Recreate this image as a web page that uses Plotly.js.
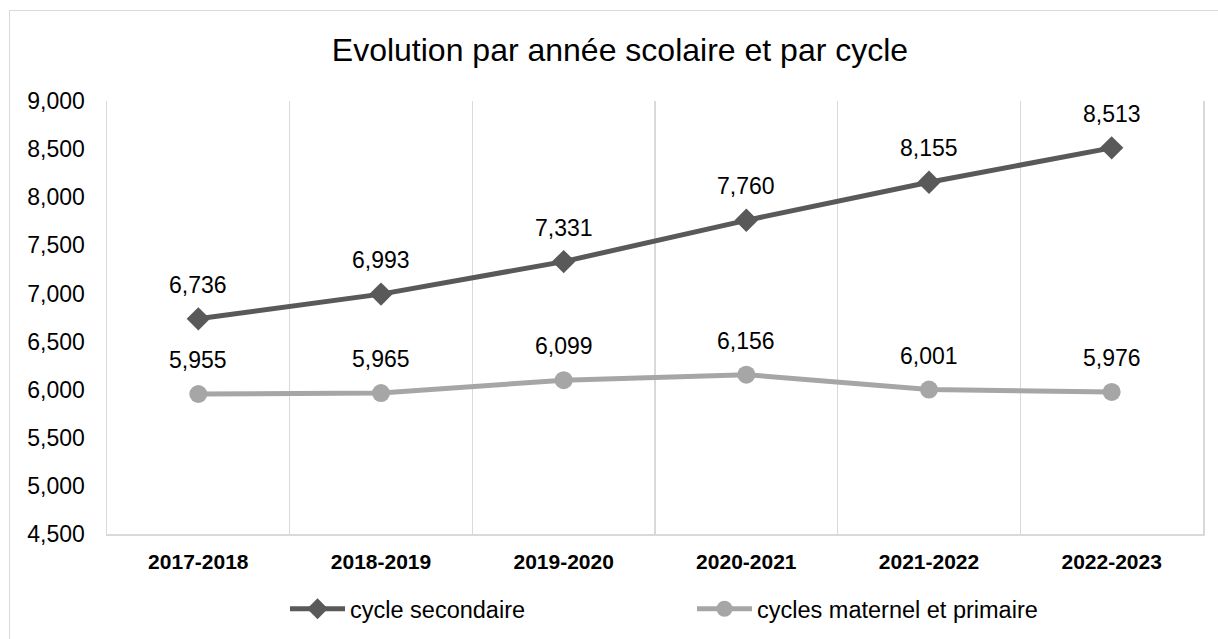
<!DOCTYPE html>
<html>
<head>
<meta charset="utf-8">
<script src="https://cdn.plot.ly/plotly-3.0.1.min.js"></script>
<style>
  html, body { margin: 0; padding: 0; background: #fff; }
  #wrap { position: relative; width: 1218px; height: 639px; }
  #chart { width: 1218px; height: 639px; }
  #frame { position: absolute; left: 9px; top: 10px; width: 1220px; height: 640px;
           border: 1.5px solid #d9d9d9; pointer-events: none; }
</style>
</head>
<body>
<div id="wrap">
  <div id="chart"></div>
  <div id="frame"></div>
</div>
<script>
const categories = ['2017-2018', '2018-2019', '2019-2020', '2020-2021', '2021-2022', '2022-2023'];
const secondaire = [6736, 6993, 7331, 7760, 8155, 8513];
const primaire = [5955, 5965, 6099, 6156, 6001, 5976];
const seriesNames = ['cycle secondaire', 'cycles maternel et primaire'];
const titleText = 'Evolution par année scolaire et par cycle';

const fmt = v => v.toLocaleString('en-US');
const FONT = 'Liberation Sans, Arial, sans-serif';

const traces = [
  {
    x: categories, y: secondaire, name: seriesNames[0],
    type: 'scatter', mode: 'lines+markers',
    line: { color: '#595959', width: 5 },
    marker: { symbol: 'diamond', size: 18, color: '#595959' },
    hoverinfo: 'skip'
  },
  {
    x: categories, y: primaire, name: seriesNames[1],
    type: 'scatter', mode: 'lines+markers',
    line: { color: '#a6a6a6', width: 5 },
    marker: { symbol: 'circle', size: 18, color: '#a6a6a6' },
    hoverinfo: 'skip'
  }
];

const annotations = [];
[secondaire, primaire].forEach(arr => {
  arr.forEach((v, i) => {
    annotations.push({
      x: categories[i], y: v, xref: 'x', yref: 'y',
      text: fmt(v), showarrow: false, yshift: 34,
      font: { family: FONT, size: 23, color: '#000' }
    });
  });
});

const layout = {
  width: 1218, height: 639,
  margin: { l: 107, r: 15, t: 101, b: 105 },
  paper_bgcolor: '#fff', plot_bgcolor: '#fff',
  font: { family: FONT, color: '#000' },
  title: {
    text: titleText, font: { family: FONT, size: 32, color: '#000' },
    xref: 'container', x: 0.509, yref: 'container', y: 0.922, yanchor: 'middle'
  },
  xaxis: {
    type: 'category', range: [-0.5, 5.5],
    tickson: 'boundaries', ticks: '',
    showgrid: true, gridcolor: '#d9d9d9', gridwidth: 1.5,
    showline: true, linecolor: '#d9d9d9', linewidth: 2,
    tickfont: { family: FONT, size: 21, color: '#000', weight: 'bold' },
    ticklabelstandoff: 8,
    fixedrange: true
  },
  yaxis: {
    range: [4500, 9000], tick0: 4500, dtick: 500, tickformat: ',d',
    showgrid: false, zeroline: false, ticks: '',
    showline: true, mirror: true, linecolor: '#d9d9d9', linewidth: 1.5,
    tickfont: { family: FONT, size: 23, color: '#000' },
    ticklabelstandoff: 16,
    fixedrange: true
  },
  showlegend: true,
  legend: {
    orientation: 'h', xref: 'container', yref: 'container',
    x: 0.234, xanchor: 'left', y: 0.047, yanchor: 'middle',
    entrywidth: 337, itemwidth: 55,
    font: { family: FONT, size: 23.5, color: '#000' },
    bgcolor: 'rgba(0,0,0,0)'
  },
  annotations: annotations
};

Plotly.newPlot('chart', traces, layout, { displayModeBar: false, staticPlot: true });
</script>
</body>
</html>
